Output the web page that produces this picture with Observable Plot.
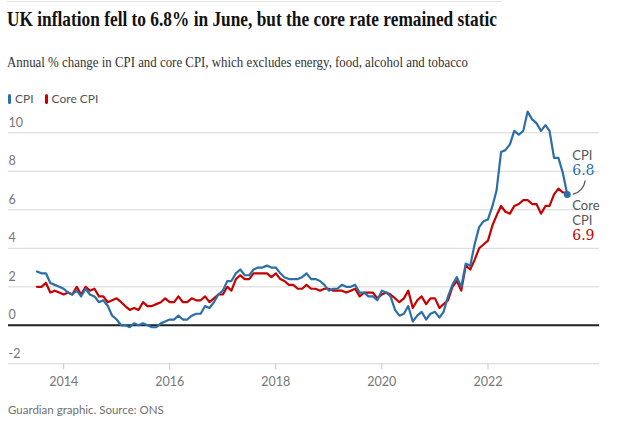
<!DOCTYPE html>
<html><head><meta charset="utf-8">
<script src="https://cdn.jsdelivr.net/npm/d3@7"></script>
<script src="https://cdn.jsdelivr.net/npm/@observablehq/plot@0.6"></script>
<style>
body{margin:0;background:#fff;width:624px;height:422px;position:relative;overflow:hidden;font-family:Lato,sans-serif}
#rule{position:absolute;left:7px;top:1px;width:495px;height:0;border-top:1px solid #e3e3e3}
#title{position:absolute;left:7px;top:9px;font-weight:bold;font-size:21px;line-height:20px;font-family:"Liberation Serif",serif;color:#121212;white-space:nowrap;transform-origin:left top}
#sub{position:absolute;left:7px;top:56px;font-size:14px;line-height:14px;font-family:"Liberation Serif",serif;color:#333;white-space:nowrap;transform-origin:left top}
#legend{position:absolute;left:8px;top:92px;font-size:12px;line-height:13px;color:#555;white-space:nowrap}
#legend .sw{display:inline-block;width:3px;height:10px;border-radius:1.5px;vertical-align:-1px;margin-right:4px}
#legend .item{display:inline-block;margin-right:11px}
#chart{position:absolute;left:0;top:100px}
#foot{position:absolute;left:8px;top:403.5px;font-size:11.5px;line-height:12px;color:#707070;white-space:nowrap}
</style></head>
<body>
<div id="rule"></div>
<div id="title">UK inflation fell to 6.8% in June, but the core rate remained static</div>
<div id="sub">Annual % change in CPI and core CPI, which excludes energy, food, alcohol and tobacco</div>
<div id="legend"></div>
<div id="chart"></div>
<div id="foot">Guardian graphic. Source: ONS</div>
<script>
// Monthly data, Jul 2013 – Jul 2023
const startMonth = new Date(Date.UTC(2013, 6, 1));
const cpi = [
  2.8, 2.7, 2.7, 2.2, 2.1, 2.0,
  1.9, 1.7, 1.6, 1.8, 1.5, 1.9, 1.6, 1.5, 1.2, 1.3, 1.0, 0.5,
  0.3, 0.0, 0.0, -0.1, 0.1, 0.0, 0.1, 0.0, -0.1, -0.1, 0.1, 0.2,
  0.3, 0.3, 0.5, 0.3, 0.3, 0.5, 0.6, 0.6, 1.0, 0.9, 1.2, 1.6,
  1.8, 2.3, 2.3, 2.7, 2.9, 2.6, 2.6, 2.9, 3.0, 3.0, 3.1, 3.0,
  3.0, 2.7, 2.5, 2.4, 2.4, 2.4, 2.5, 2.7, 2.4, 2.4, 2.3, 2.1,
  1.8, 1.9, 1.9, 2.1, 2.0, 2.0, 2.1, 1.7, 1.7, 1.5, 1.5, 1.3,
  1.8, 1.7, 1.5, 0.8, 0.5, 0.6, 1.0, 0.2, 0.5, 0.7, 0.3, 0.6,
  0.7, 0.4, 0.7, 1.5, 2.1, 2.5, 2.0, 3.2, 3.1, 4.2, 5.1, 5.4,
  5.5, 6.2, 7.0, 9.0, 9.1, 9.4, 10.1, 9.9, 10.1, 11.1, 10.7, 10.5,
  10.1, 10.4, 10.1, 8.7, 8.7, 7.9, 6.8
];
const core = [
  2.0, 2.0, 2.2, 1.7, 1.8, 1.7,
  1.6, 1.7, 1.6, 2.0, 1.6, 2.0, 1.8, 1.9, 1.5, 1.5, 1.2, 1.3,
  1.4, 1.2, 1.0, 0.8, 0.9, 0.8, 1.2, 1.0, 1.0, 1.1, 1.2, 1.4,
  1.2, 1.2, 1.5, 1.2, 1.2, 1.4, 1.3, 1.3, 1.5, 1.2, 1.4, 1.6,
  1.6, 2.0, 1.8, 2.4, 2.6, 2.4, 2.4, 2.7, 2.7, 2.7, 2.7, 2.5,
  2.7, 2.4, 2.3, 2.1, 2.1, 1.9, 1.9, 2.1, 1.9, 1.9, 1.8, 1.9,
  1.9, 1.8, 1.8, 1.8, 1.7, 1.8, 1.9, 1.5, 1.7, 1.7, 1.7, 1.4,
  1.6, 1.7, 1.6, 1.4, 1.2, 1.4, 1.8, 0.9, 1.3, 1.5, 1.1, 1.4,
  1.4, 0.9, 1.1, 1.3, 2.0, 2.3, 1.8, 3.1, 2.9, 3.4, 4.0, 4.2,
  4.4, 5.2, 5.7, 6.2, 5.9, 5.8, 6.2, 6.3, 6.5, 6.5, 6.3, 6.3,
  5.8, 6.2, 6.2, 6.8, 7.1, 6.9, 6.9
];
const seriesNames = ["CPI", "Core CPI"];
const seriesColors = ["#2b6ea8", "#c70000"];
const yTicks = [-2, 0, 2, 4, 6, 8, 10];
const xTickYears = [2014, 2016, 2018, 2020, 2022];

const data = cpi.map((v, i) => ({date: d3.utcMonth.offset(startMonth, i), cpi: v, core: core[i]}));
const last = [data[data.length - 1]];
const xTicks = xTickYears.map(y => new Date(Date.UTC(y, 0, 1)));
const [blue, red] = seriesColors;

// legend
document.getElementById("legend").innerHTML = seriesNames.map((n, i) =>
  `<span class="item"><span class="sw" style="background:${seriesColors[i]}"></span>${n}</span>`).join("");

// fit title widths
function fit(id, w) {
  const el = document.getElementById(id);
  const r = el.getBoundingClientRect().width;
  el.style.transform = `scaleX(${w / r})`;
}
fit("title", 490);
fit("sub", 461);

const annFont = {fontFamily: "Lato, sans-serif", fontSize: 13, textAnchor: "start", fill: "#555"};
const numFont = {fontFamily: "'DejaVu Serif', serif", fontSize: 14, textAnchor: "start"};

const chart = Plot.plot({
  width: 624, height: 300,
  marginLeft: 8, marginRight: 25, marginTop: 32.3, marginBottom: 36.7,
  style: {fontFamily: "Lato, sans-serif", fontSize: "12px", color: "#767676", background: "transparent"},
  x: {type: "utc", domain: [new Date(Date.UTC(2012, 11, 17)), new Date(Date.UTC(2024, 1, 8))]},
  y: {domain: [-2, 10]},
  marks: [
    Plot.gridY(yTicks, {stroke: "#d6d6d6", strokeOpacity: 1}),
    Plot.axisY(yTicks, {anchor: "left", tickSize: 0, tickPadding: 0, textAnchor: "start", dy: -10, fill: "#767676", label: null, fontSize: 12.5, tickFormat: d => String(d)}),
    Plot.axisX(xTicks, {anchor: "bottom", tickSize: 6, tickPadding: 7, tickFormat: d3.utcFormat("%Y"), stroke: "#c8c8c8", fill: "#767676", label: null, fontSize: 12.5}),
    Plot.ruleY([0], {stroke: "#222", strokeWidth: 2}),
    Plot.lineY(data, {x: "date", y: "core", stroke: red, strokeWidth: 2.2}),
    Plot.lineY(data, {x: "date", y: "cpi", stroke: blue, strokeWidth: 2.2}),
    Plot.dot(last, {x: "date", y: "cpi", r: 3.5, fill: blue}),
    Plot.arrow(last, {x1: "date", y1: "cpi", x2: d => d3.utcMonth.offset(d.date, 4), y2: d => d.cpi + 0.7, bend: -45, headLength: 0, insetStart: 6, stroke: "#555", strokeWidth: 1.2}),
    Plot.text(last, {x: "date", y: "cpi", text: () => "CPI", dx: 5, dy: -39, ...annFont}),
    Plot.text(last, {x: "date", y: "cpi", text: d => d.cpi.toFixed(1), dx: 5, dy: -23.5, fill: blue, ...numFont}),
    Plot.text(last, {x: "date", y: "core", text: () => "Core", dx: 5, dy: 13.5, ...annFont}),
    Plot.text(last, {x: "date", y: "core", text: () => "CPI", dx: 5, dy: 28.2, ...annFont}),
    Plot.text(last, {x: "date", y: "core", text: d => d.core.toFixed(1), dx: 5, dy: 43, fill: red, ...numFont})
  ]
});
document.getElementById("chart").appendChild(chart);
</script>
</body></html>
